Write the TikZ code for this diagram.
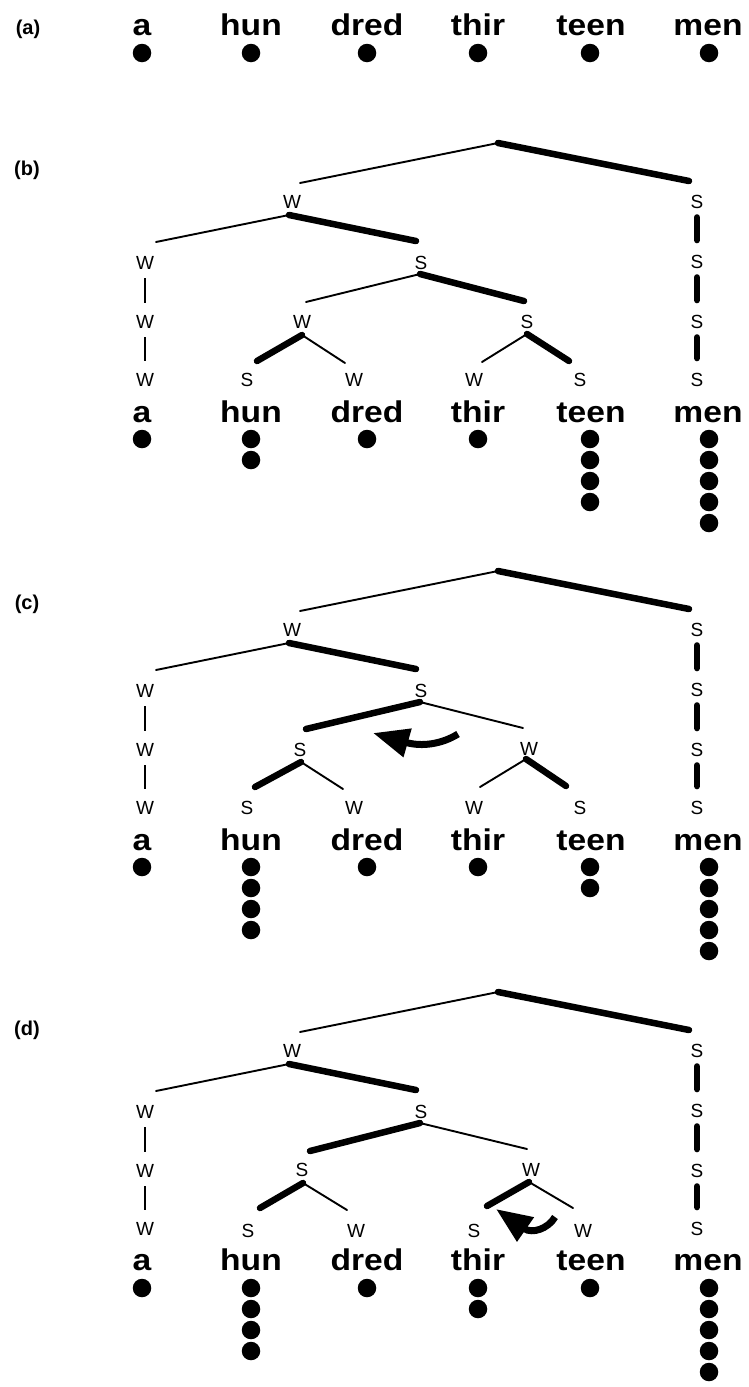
\documentclass[tikz,border=0pt]{standalone}
\usepackage{fontspec}
\setmainfont{Liberation Sans}
\newfontfamily\wfont[FakeStretch=1.12]{Liberation Sans}
\newfontfamily\lfont{Liberation Sans}
\usetikzlibrary{arrows.meta}
\tikzset{
  lab/.style={inner sep=0pt, font=\lfont\fontsize{19}{21}\selectfont},
  word/.style={inner sep=0pt, anchor=base, font=\wfont\bfseries\fontsize{30}{33}\selectfont},
  plab/.style={inner sep=0pt, font=\lfont\bfseries\fontsize{20}{23}\selectfont},
  bead/.style={circle, fill=black, inner sep=0pt, minimum size=18.5pt},
  weak/.style={line width=1.9pt, line cap=round},
  strong/.style={line width=6.5pt, line cap=round},
  wbar/.style={line width=1.9pt, shorten <=8.5pt, shorten >=12pt},
  sbar/.style={line width=6.5pt, line cap=round, shorten <=8.5pt, shorten >=15pt},
  turn/.style={line width=7pt, -{Triangle[length=36pt,width=28pt]}},
}
\newcommand\treetop[1]{%
  \coordinate (#1-root) at (498,143);
  \node[lab] (#1-w1) at (292,202) {W};
  \node[lab] (#1-r1) at (697,202) {S};
  \node[lab] (#1-l1) at (145,263) {W};
  \node[lab] (#1-s1) at (421,263) {S};
  \node[lab] (#1-r2) at (697,262) {S};
  \node[lab] (#1-l2) at (145,322) {W};
  \node[lab] (#1-r3) at (697,322) {S};
  \node[lab] (#1-l3) at (145,380) {W};
  \node[lab] (#1-r4) at (697,380) {S};
  \coordinate (#1-w1top) at (300,183);
  \coordinate (#1-r1top) at (689,181);
  \coordinate (#1-w1j) at (289,215);
  \coordinate (#1-l1top) at (156,242);
  \coordinate (#1-s1top) at (416,241);
  \coordinate (#1-s1j) at (420,274);
  \draw[weak] (#1-root) -- (#1-w1top);
  \draw[strong] (#1-root) -- (#1-r1top);
  \draw[weak] (#1-w1j) -- (#1-l1top);
  \draw[strong] (#1-w1j) -- (#1-s1top);
  \draw[wbar] (#1-l1) -- (#1-l2);
  \draw[wbar] (#1-l2) -- (#1-l3);
  \draw[sbar] (#1-r1) -- (#1-r2);
  \draw[sbar] (#1-r2) -- (#1-r3);
  \draw[sbar] (#1-r3) -- (#1-r4);
}
\newcommand\wordrow[2]{%
  \node[word] (#1-wa) at (142,#2) {a};
  \node[word] (#1-whun) at (251,#2) {hun};
  \node[word] (#1-wdred) at (367,#2) {dred};
  \node[word] (#1-wthir) at (478,#2) {thir};
  \node[word] (#1-wteen) at (591,#2) {teen};
  \node[word] (#1-wmen) at (708,#2) {men};
}
\newcommand\dotcol[4]{%
  \foreach \k in {1,...,#4} {\node[bead] (#1-\k) at (#2,{#3+21*(\k-1)}) {};}
}
\newcommand\dotrow[8]{% prefix, y0, counts a hun dred thir teen men
  \dotcol{#1-da}{142}{#2}{#3}
  \dotcol{#1-dhun}{251}{#2}{#4}
  \dotcol{#1-ddred}{367}{#2}{#5}
  \dotcol{#1-dthir}{478}{#2}{#6}
  \dotcol{#1-dteen}{590}{#2}{#7}
  \dotcol{#1-dmen}{709}{#2}{#8}
}
\begin{document}
\begin{tikzpicture}[x=1pt,y=-1pt]
\useasboundingbox (0,0) rectangle (749,1387);
% panel labels
\node[plab, anchor=base] (pa) at (28,34) {(a)};
\node[plab] (pb) at (27,170) {(b)};
\node[plab] (pc) at (27,604) {(c)};
\node[plab] (pd) at (27,1030) {(d)};
% (a)
\wordrow{a}{35}
\dotrow{a}{53}{1}{1}{1}{1}{1}{1}
% (b)
\begin{scope}
  \treetop{b}
  \node[lab] (b-a) at (302,322) {W};
  \node[lab] (b-b) at (527,322) {S};
  \coordinate (b-atop) at (306,302);
  \coordinate (b-btop) at (524,301);
  \draw[weak] (b-s1j) -- (b-atop);
  \draw[strong] (b-s1j) -- (b-btop);
  \coordinate (b-aj) at (302,335);
  \coordinate (b-bj) at (527,334);
  \node[lab] (b-a1) at (247,380) {S};
  \node[lab] (b-a2) at (354,380) {W};
  \node[lab] (b-b1) at (474,380) {W};
  \node[lab] (b-b2) at (580,380) {S};
  \coordinate (b-a1top) at (257,361);
  \coordinate (b-a2top) at (345,363);
  \coordinate (b-b1top) at (482,362);
  \coordinate (b-b2top) at (569,361);
  \draw[strong] (b-aj) -- (b-a1top);
  \draw[weak] (b-aj) -- (b-a2top);
  \draw[weak] (b-bj) -- (b-b1top);
  \draw[strong] (b-bj) -- (b-b2top);
  \wordrow{b}{422}
  \dotrow{b}{439}{1}{2}{1}{1}{4}{5}
\end{scope}
% (c)
\begin{scope}[yshift=-428pt]
  \treetop{c}
  \node[lab] (c-a) at (300,322) {S};
  \node[lab] (c-b) at (529,321) {W};
  \coordinate (c-atop) at (306,301);
  \coordinate (c-btop) at (523,300);
  \draw[strong] (c-s1j) -- (c-atop);
  \draw[weak] (c-s1j) -- (c-btop);
  \coordinate (c-aj) at (301,334);
  \coordinate (c-bj) at (526,331);
  \node[lab] (c-a1) at (247,380) {S};
  \node[lab] (c-a2) at (354,380) {W};
  \node[lab] (c-b1) at (474,380) {W};
  \node[lab] (c-b2) at (580,380) {S};
  \coordinate (c-a1top) at (255,359);
  \coordinate (c-a2top) at (343,361);
  \coordinate (c-b1top) at (480,359);
  \coordinate (c-b2top) at (566,358);
  \draw[strong] (c-aj) -- (c-a1top);
  \draw[weak] (c-aj) -- (c-a2top);
  \draw[weak] (c-bj) -- (c-b1top);
  \draw[strong] (c-bj) -- (c-b2top);
  \coordinate (c-arrtail) at (458,306);
  \coordinate (c-arrtip) at (373,305);
  \draw[turn] (c-arrtail) .. controls (442,316) and (422,319) .. (c-arrtip);
  \wordrow{c}{422}
  \dotrow{c}{439}{1}{4}{1}{1}{2}{5}
\end{scope}
% (d)
\begin{scope}[yshift=-849pt]
  \treetop{d}
  \node[lab] (d-a) at (302,321) {S};
  \node[lab] (d-b) at (531,321) {W};
  \coordinate (d-atop) at (310,302);
  \coordinate (d-btop) at (527,300);
  \draw[strong] (d-s1j) -- (d-atop);
  \draw[weak] (d-s1j) -- (d-btop);
  \coordinate (d-aj) at (303,334);
  \coordinate (d-bj) at (529,333);
  \node[lab] (d-a1) at (248,382) {S};
  \node[lab] (d-a2) at (356,382) {W};
  \node[lab] (d-b1) at (474,382) {S};
  \node[lab] (d-b2) at (583,382) {W};
  \coordinate (d-a1top) at (260,359);
  \coordinate (d-a2top) at (347,361);
  \coordinate (d-b1top) at (487,357);
  \coordinate (d-b2top) at (573,359);
  \draw[strong] (d-aj) -- (d-a1top);
  \draw[weak] (d-aj) -- (d-a2top);
  \draw[strong] (d-bj) -- (d-b1top);
  \draw[weak] (d-bj) -- (d-b2top);
  \coordinate (d-arrtail) at (555,368);
  \coordinate (d-arrtip) at (496,360);
  \draw[turn] (d-arrtail) .. controls (548,380) and (532,385) .. (d-arrtip);
  \wordrow{d}{421}
  \dotrow{d}{439}{1}{4}{1}{2}{1}{5}
\end{scope}
\end{tikzpicture}
\end{document}
